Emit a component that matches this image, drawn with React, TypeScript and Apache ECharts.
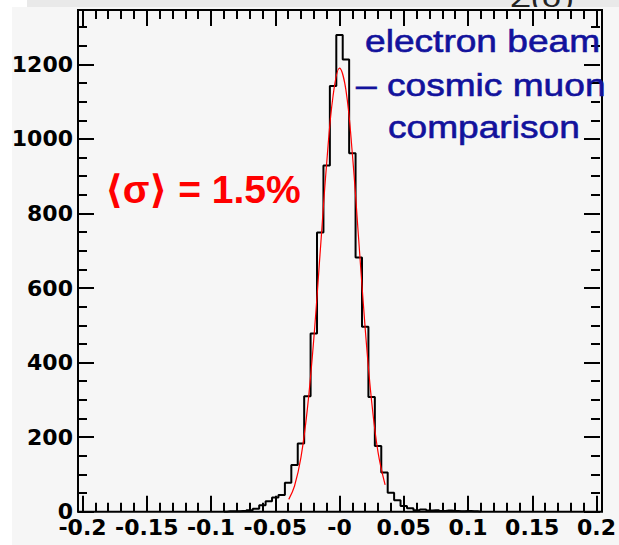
import React, { useEffect, useRef } from "react";
import * as echarts from "echarts";

// Histogram: bin centres (width 0.005) and entries
const binCenters = [
  -0.09, -0.085, -0.08, -0.075, -0.07, -0.065, -0.06, -0.055, -0.05, -0.045,
  -0.04, -0.035, -0.03, -0.025, -0.02, -0.015, -0.01, -0.005, 0.0, 0.005,
  0.01, 0.015, 0.02, 0.025, 0.03, 0.035, 0.04, 0.045, 0.05, 0.055,
  0.06, 0.065, 0.07, 0.075, 0.08, 0.085, 0.09, 0.095, 0.1, 0.105, 0.11,
];
const binCounts = [
  0, 1, 1, 2, 4, 8, 17, 28, 38, 45,
  78, 125, 183, 310, 478, 749, 929, 1142, 1279, 1213,
  962, 682, 496, 308, 176, 105, 51, 31, 15, 9,
  4, 6, 3, 4, 2, 3, 2, 1, 2, 1, 0,
];

// Gaussian fit curve
const fitX = [
  -0.0395, -0.035, -0.03, -0.025, -0.02, -0.015, -0.01, -0.005, 0.0, 0.005,
  0.01, 0.015, 0.02, 0.025, 0.03, 0.0355,
];
const fitY = [
  33, 69, 146, 276, 464, 698, 934, 1116, 1190, 1131,
  960, 727, 491, 296, 159, 72,
];

const xTickValues = [-0.2, -0.15, -0.1, -0.05, 0, 0.05, 0.1, 0.15, 0.2];
const xTickLabels = ["-0.2", "-0.15", "-0.1", "-0.05", "-0", "0.05", "0.1", "0.15", "0.2"];
const yTickValues = [0, 200, 400, 600, 800, 1000, 1200];
const yTickLabels = ["0", "200", "400", "600", "800", "1000", "1200"];

const annotationLines = ["electron beam", "\u2013 cosmic muon", "comparison"];
const resultLabel = "\u27E8\u03C3\u27E9 = 1.5%";
const headerFragment = "\u03A3(\u03C3)";

export default function App() {
  const ref = useRef<HTMLDivElement>(null);

  useEffect(() => {
    if (!ref.current) return;
    const chart = echarts.init(ref.current, null, { renderer: "svg" });

    const gridLeft = 82.5;
    const gridRight = 619 - 598.5;
    const gridTop = 10;
    const gridBottom = 545 - 511.7;
    const frameLeft = 78;
    const frameRight = 602;

    const xLabelFmt = (v: number) => {
      const i = xTickValues.findIndex((t) => Math.abs(t - v) < 1e-6);
      return i >= 0 ? xTickLabels[i] : "";
    };
    const yLabelFmt = (v: number) => {
      const i = yTickValues.findIndex((t) => Math.abs(t - v) < 1e-6);
      return i >= 0 ? yTickLabels[i] : "";
    };

    const tickStyle = { color: "#000", width: 2 };
    const labelStyle = {
      color: "#000",
      fontFamily: "DejaVu Sans",
      fontSize: 22,
      fontWeight: "bold",
    };

    const xAxisBase = {
      type: "value" as const,
      min: -0.2,
      max: 0.2,
      interval: 0.05,
      axisLine: { show: false, onZero: false },
      axisTick: { show: true, inside: true, length: 16, lineStyle: tickStyle },
      minorTick: { show: true, splitNumber: 5, length: 9, lineStyle: tickStyle },
      splitLine: { show: false },
      minorSplitLine: { show: false },
    };
    const yAxisBase = {
      type: "value" as const,
      min: 0,
      max: 1346,
      interval: 200,
      axisLine: { show: false, onZero: false },
      axisTick: { show: true, inside: true, length: 16, lineStyle: tickStyle },
      minorTick: { show: true, splitNumber: 4, length: 9, lineStyle: tickStyle },
      splitLine: { show: false },
      minorSplitLine: { show: false },
    };

    const textFont = "'Liberation Sans', 'DejaVu Sans', sans-serif";
    const blue = "#12129c";
    const annotX = [365, 356, 388];
    const annotY = [41, 85, 126.5];

    const option: any = {
      animation: false,
      backgroundColor: "#ffffff",
      grid: { left: gridLeft, right: gridRight, top: gridTop, bottom: gridBottom },
      xAxis: [
        {
          ...xAxisBase,
          position: "bottom",
          axisLabel: { ...labelStyle, margin: 5, formatter: xLabelFmt },
        },
        {
          ...xAxisBase,
          position: "top",
          axisLabel: { show: false },
        },
      ],
      yAxis: [
        {
          ...yAxisBase,
          position: "left",
          offset: gridLeft - frameLeft,
          axisLabel: { ...labelStyle, margin: 5, showMaxLabel: false, formatter: yLabelFmt },
        },
        {
          ...yAxisBase,
          position: "right",
          offset: frameRight - (619 - gridRight),
          axisLabel: { show: false },
        },
      ],
      series: [
        {
          type: "line",
          name: "histogram",
          xAxisIndex: 0,
          yAxisIndex: 0,
          step: "middle",
          showSymbol: false,
          symbol: "none",
          data: binCenters.map((c, i) => [c, binCounts[i]]),
          lineStyle: { color: "#000", width: 2 },
          z: 3,
        },
        {
          type: "line",
          name: "fit",
          xAxisIndex: 0,
          yAxisIndex: 0,
          smooth: 0.4,
          showSymbol: false,
          symbol: "none",
          data: fitX.map((x, i) => [x, fitY[i]]),
          lineStyle: { color: "#ff0000", width: 1.2 },
          z: 4,
        },
      ],
      graphic: {
        elements: [
          {
            type: "rect",
            z: -30,
            silent: true,
            shape: { x: 27, y: 0, width: 592, height: 7 },
            style: { fill: "#e9e9e9" },
          },
          {
            type: "text",
            z: -25,
            silent: true,
            x: 510,
            y: 11,
            scaleX: 1.2,
            style: {
              text: headerFragment,
              fontFamily: textFont,
              fontSize: 28,
              fill: "#222",
              align: "left",
              verticalAlign: "bottom",
            },
          },
          {
            type: "rect",
            z: -20,
            silent: true,
            shape: { x: 12, y: 7, width: 607, height: 538 },
            style: { fill: "#f6f6f6" },
          },
          {
            type: "rect",
            z: 50,
            silent: true,
            shape: {
              x: frameLeft,
              y: gridTop,
              width: frameRight - frameLeft,
              height: 545 - gridBottom - gridTop,
            },
            style: { fill: "none", stroke: "#000", lineWidth: 2 },
          },
          ...annotationLines.map((t, i) => ({
            type: "text",
            z: 60,
            silent: true,
            x: annotX[i],
            y: annotY[i],
            scaleX: 1.16,
            style: {
              text: t,
              fontFamily: textFont,
              fontSize: 32,
              fill: blue,
              stroke: blue,
              lineWidth: 0.6,
              align: "left",
              verticalAlign: "middle",
            },
          })),
          {
            type: "text",
            z: 60,
            silent: true,
            x: 105,
            y: 189.5,
            scaleX: 1.0,
            style: {
              text: resultLabel,
              fontFamily: textFont,
              fontWeight: "bold",
              fontSize: 39,
              fill: "#ff0000",
              align: "left",
              verticalAlign: "middle",
            },
          },
        ],
      },
    };

    chart.setOption(option);
    return () => chart.dispose();
  }, []);

  return (
    <div
      ref={ref}
      style={{ position: "absolute", left: 0, top: 0, width: 619, height: 545 }}
    />
  );
}
